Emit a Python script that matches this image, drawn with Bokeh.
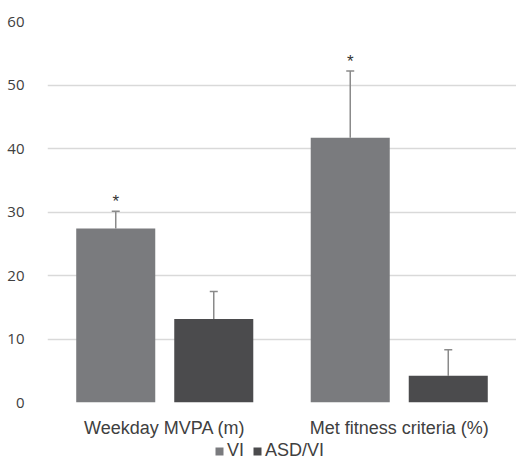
from bokeh.plotting import figure
from bokeh.layouts import column
from bokeh.models import (ColumnDataSource, Range1d, FixedTicker, Whisker, TeeHead,
                          Legend, LegendItem)
from bokeh.core.properties import value
from bokeh.embed import file_html
from bokeh.resources import INLINE

# ---- data ----
categories = ["Weekday MVPA (m)", "Met fitness criteria (%)"]
series = ["VI", "ASD/VI"]
vi_values = [27.4, 41.7]
vi_errors = [2.7, 10.5]
asd_values = [13.15, 4.2]
asd_errors = [4.35, 4.1]
significance = ["*", "*"]
y_ticks = [0, 10, 20, 30, 40, 50, 60]

# ---- style ----
VI_COLOR = "#7a7b7e"
ASD_COLOR = "#4b4b4d"
ERR_COLOR = "#8a8a8a"
TEXT_COLOR = "#404040"
GRID_COLOR = "#d9d9d9"
OFFSET = 0.209
BAR_W = 0.337

cat_x = [i + 0.5 for i in range(len(categories))]
vi_x = [c - OFFSET for c in cat_x]
asd_x = [c + OFFSET for c in cat_x]

vi_src = ColumnDataSource(dict(x=vi_x, top=vi_values,
                               upper=[v + e for v, e in zip(vi_values, vi_errors)],
                               star=significance))
asd_src = ColumnDataSource(dict(x=asd_x, top=asd_values,
                                upper=[v + e for v, e in zip(asd_values, asd_errors)]))

p = figure(width=516, height=440, output_backend="svg", toolbar_location=None,
           x_range=Range1d(0, 2), y_range=Range1d(0, 60),
           min_border_left=47, min_border_right=0, min_border_top=21,
           min_border_bottom=38)
p.outline_line_color = None
p.background_fill_color = "white"
p.border_fill_color = "white"

p.vbar(x="x", top="top", width=BAR_W, source=vi_src,
       fill_color=VI_COLOR, line_color=None)
p.vbar(x="x", top="top", width=BAR_W, source=asd_src,
       fill_color=ASD_COLOR, line_color=None)

for src in (vi_src, asd_src):
    w = Whisker(base="x", lower="top", upper="upper", source=src,
                line_color=ERR_COLOR, line_width=1.5,
                lower_head=TeeHead(size=1, line_alpha=0),
                upper_head=TeeHead(size=8, line_color=ERR_COLOR, line_width=1.5))
    p.add_layout(w)

p.text(x="x", y="upper", text="star", source=vi_src, text_align="center",
       text_baseline="middle", y_offset=-10, text_font=value("Liberation Sans"),
       text_font_size="17px", text_color="#333333")

# axes
p.xgrid.visible = False
p.ygrid.grid_line_color = GRID_COLOR
p.ygrid.grid_line_width = 1.5

p.yaxis.ticker = FixedTicker(ticks=y_ticks)
p.yaxis.axis_line_color = None
p.yaxis.major_tick_line_color = None
p.yaxis.minor_tick_line_color = None
p.yaxis.major_label_standoff = 17
p.yaxis.major_label_text_font = "Open Sans"
p.yaxis.major_label_text_font_size = "15px"
p.yaxis.major_label_text_color = TEXT_COLOR

p.xaxis.ticker = FixedTicker(ticks=cat_x)
p.xaxis.major_label_overrides = {x: c for x, c in zip(cat_x, categories)}
p.xaxis.axis_line_color = None
p.xaxis.major_tick_line_color = None
p.xaxis.minor_tick_line_color = None
p.xaxis.major_label_standoff = 9
p.xaxis.major_label_text_font = "Liberation Sans"
p.xaxis.major_label_text_font_size = "18px"
p.xaxis.major_label_text_color = TEXT_COLOR

# ---- legend strip (separate figure, bars kept out of view) ----
lg = figure(width=516, height=20, output_backend="svg", toolbar_location=None,
            x_range=Range1d(0, 2), y_range=Range1d(1000, 1001),
            x_axis_type=None, y_axis_type=None,
            min_border_left=0, min_border_right=0, min_border_top=0,
            min_border_bottom=0)
lg.outline_line_color = None
lg.grid.visible = False
lg.background_fill_color = "white"
lg.border_fill_color = "white"
l_vi = lg.vbar(x="x", top="top", width=BAR_W, source=vi_src,
               fill_color=VI_COLOR, line_color=None)
l_asd = lg.vbar(x="x", top="top", width=BAR_W, source=asd_src,
                fill_color=ASD_COLOR, line_color=None)

legend = Legend(items=[LegendItem(label=series[0], renderers=[l_vi]),
                       LegendItem(label=series[1], renderers=[l_asd])],
                orientation="horizontal", location=(167, -1),
                glyph_width=10, glyph_height=10, label_standoff=3, spacing=5,
                padding=0, margin=0, border_line_color=None,
                background_fill_alpha=0,
                label_text_font="Liberation Sans", label_text_font_size="18px",
                label_text_color=TEXT_COLOR)
lg.add_layout(legend)

layout = column(p, lg, spacing=0)
open("out.html", "w").write(file_html(layout, INLINE))
